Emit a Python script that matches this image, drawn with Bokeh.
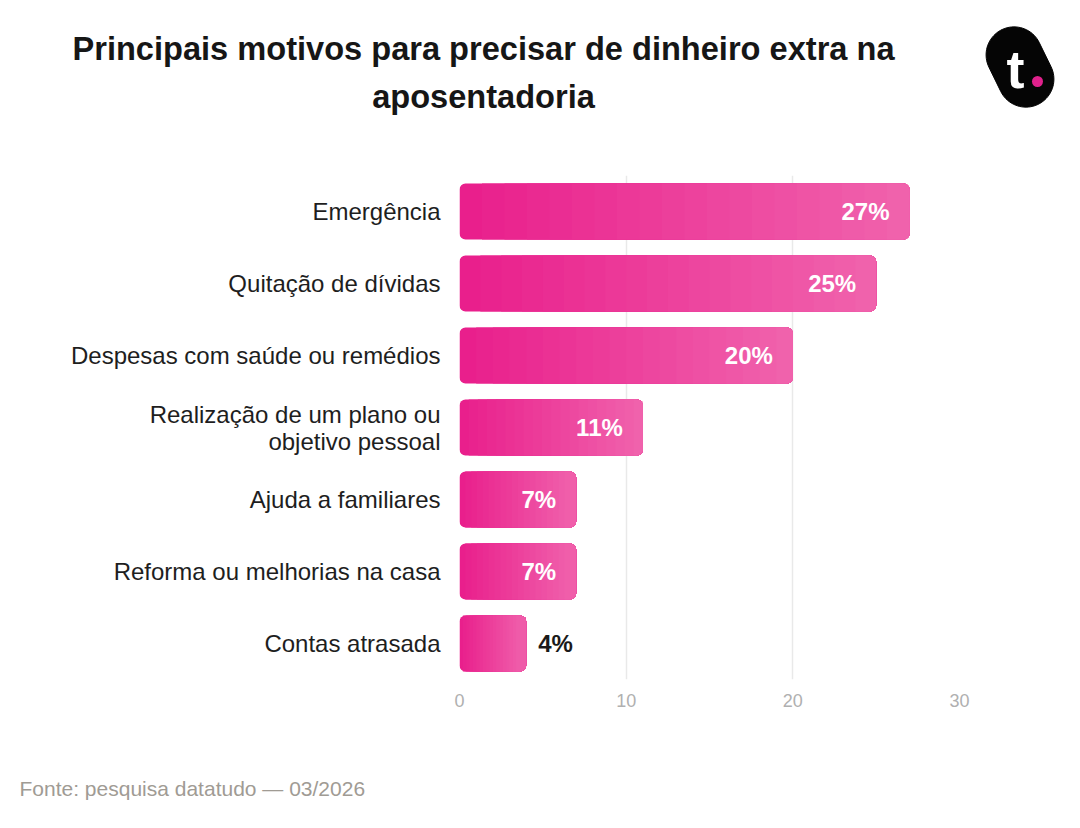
import numpy as np
from bokeh.plotting import figure
from bokeh.layouts import column
from bokeh.models import FactorRange, Range1d, FixedTicker
from bokeh.core.properties import value
from bokeh.embed import file_html
from bokeh.resources import INLINE

# ---------------- data ----------------
categories = [
    "Emergência",
    "Quitação de dívidas",
    "Despesas com saúde ou remédios",
    "Realização de um plano ou\nobjetivo pessoal",
    "Ajuda a familiares",
    "Reforma ou melhorias na casa",
    "Contas atrasada",
]
values = [27, 25, 20, 11, 7, 7, 4]
x_ticks = [0, 10, 20, 30]
title_lines = ["Principais motivos para precisar de dinheiro extra na", "aposentadoria"]
source_text = "Fonte: pesquisa datatudo — 03/2026"

FONT = "Liberation Sans"
W = 1070
HH = 157

# ---------------- header (title + logo) ----------------
hdr = figure(width=W, height=HH, x_range=Range1d(0, W), y_range=Range1d(HH, 0),
             x_axis_location=None, y_axis_location=None, toolbar_location=None,
             output_backend="svg", min_border=0, frame_align=False)
hdr.grid.visible = False
hdr.outline_line_color = None
hdr.text(x=[483, 483], y=[47.5, 95.5], text=title_lines, text_font=value(FONT),
         text_font_style="bold", text_font_size="32.6px", text_color="#161616",
         text_align="center", text_baseline="middle")

# logo: tilted capsule
cx, cy, R, L, th = 1019.5, 66.5, 28.0, 13.5, np.deg2rad(64)
ax = np.array([np.cos(th), np.sin(th)])
nrm = np.array([-np.sin(th), np.cos(th)])
phi = np.linspace(-np.pi / 2, np.pi / 2, 40)
c1 = np.array([cx, cy]) + ax * L
c2 = np.array([cx, cy]) - ax * L
pts1 = [c1 + R * (np.cos(f) * ax + np.sin(f) * nrm) for f in phi]
pts2 = [c2 + R * (-np.cos(f) * ax - np.sin(f) * nrm) for f in phi]
pts = np.array(pts1 + pts2)
hdr.patch(pts[:, 0], pts[:, 1], fill_color="#050505", line_color="#050505")
hdr.text(x=[1015], y=[68], text=["t"], text_font=value(FONT), text_font_style="bold",
         text_font_size="54px", text_color="white", text_align="center",
         text_baseline="middle")
hdr.circle(x=[1037], y=[81], radius=5.5, fill_color="#e0218c", line_color=None)

# ---------------- main chart ----------------
factors = categories[::-1]
p = figure(width=W, height=582, y_range=FactorRange(*factors, range_padding=0),
           x_range=Range1d(0, 30), toolbar_location=None, output_backend="svg",
           min_border_left=459, min_border_right=W - 459 - 500, min_border_top=18,
           min_border_bottom=60, frame_align=False)
p.outline_line_color = None
p.ygrid.visible = False
p.xgrid.grid_line_color = "#e9e9e9"
p.xgrid.grid_line_width = 1.5
p.xaxis.ticker = FixedTicker(ticks=x_ticks)
p.xaxis.axis_line_color = None
p.xaxis.major_tick_line_color = None
p.xaxis.minor_tick_line_color = None
p.xaxis.major_label_text_font = FONT
p.xaxis.major_label_text_font_size = "18px"
p.xaxis.major_label_text_color = "#b0b0b0"
p.xaxis.major_label_standoff = 8
p.yaxis.axis_line_color = None
p.yaxis.major_tick_line_color = None
p.yaxis.minor_tick_line_color = None
p.yaxis.major_label_text_font = FONT
p.yaxis.major_label_text_font_size = "24px"
p.yaxis.major_label_text_color = "#1e1e1e"
p.yaxis.major_label_text_line_height = 1.0
p.yaxis.major_label_standoff = 13

BAR_H = 0.78
c_left = np.array([233, 31, 140])
c_right = np.array([240, 98, 172])
N = 20

def hexc(c):
    return "#%02x%02x%02x" % tuple(int(round(v)) for v in c)

# base bars (full rounded)
p.hbar(y=categories, left=0, right=values, height=BAR_H, fill_color=hexc(c_left),
       line_color=None, border_radius=6)

# gradient overlays: right-anchored, progressively lighter
ov_y, ov_l, ov_r, ov_c = [], [], [], []
for j in range(1, N):
    col = hexc(c_left + (c_right - c_left) * j / (N - 1))
    for cat, v in zip(categories, values):
        left = v * j / N
        if (v - left) * (500 / 30) < 7:
            continue
        ov_y.append(cat); ov_l.append(left); ov_r.append(v); ov_c.append(col)
p.hbar(y=ov_y, left=ov_l, right=ov_r, height=BAR_H, fill_color=ov_c,
       line_color=None, border_radius=(0, 6, 6, 0))

# value labels
inside = [(c, v) for c, v in zip(categories, values) if v >= 5]
outside = [(c, v) for c, v in zip(categories, values) if v < 5]
p.text(x=[v for c, v in inside], y=[c for c, v in inside],
       text=["%d%%" % v for c, v in inside], x_offset=-20, text_align="right",
       text_baseline="middle", text_font=value(FONT), text_font_style="bold",
       text_font_size="24px", text_color="white")
p.text(x=[v for c, v in outside], y=[c for c, v in outside],
       text=["%d%%" % v for c, v in outside], x_offset=12, text_align="left",
       text_baseline="middle", text_font=value(FONT), text_font_style="bold",
       text_font_size="24px", text_color="#1a1a1a")

# ---------------- footer ----------------
ftr = figure(width=W, height=80, x_range=Range1d(0, W), y_range=Range1d(80, 0),
             x_axis_location=None, y_axis_location=None, toolbar_location=None,
             output_backend="svg", min_border=0, frame_align=False)
ftr.grid.visible = False
ftr.outline_line_color = None
ftr.text(x=[19], y=[49], text=[source_text], text_font=value(FONT),
         text_font_size="21px", text_color="#a09b94", text_align="left",
         text_baseline="middle")

layout = column(hdr, p, ftr, spacing=0)
open("out.html", "w").write(file_html(layout, INLINE))
